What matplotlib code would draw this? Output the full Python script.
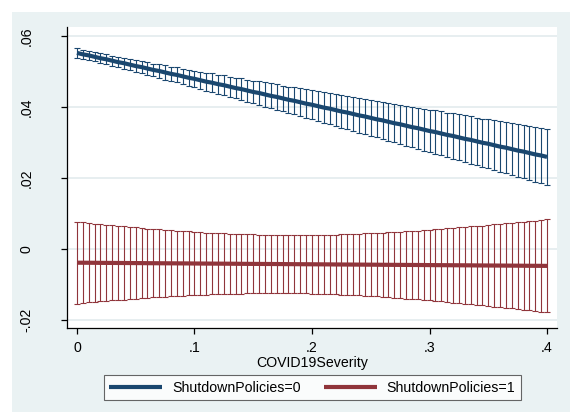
import numpy as np
import matplotlib
matplotlib.use("Agg")
import matplotlib.pyplot as plt
from matplotlib.patches import Rectangle

plt.rcParams['font.family'] = ['Liberation Sans', 'DejaVu Sans']

# at() grid of COVID19Severity
severity = [0.000, 0.005, 0.010, 0.015, 0.020, 0.025, 0.030, 0.035, 0.040, 0.045,
            0.050, 0.055, 0.060, 0.065, 0.070, 0.075, 0.080, 0.085, 0.090, 0.095,
            0.100, 0.105, 0.110, 0.115, 0.120, 0.125, 0.130, 0.135, 0.140, 0.145,
            0.150, 0.155, 0.160, 0.165, 0.170, 0.175, 0.180, 0.185, 0.190, 0.195,
            0.200, 0.205, 0.210, 0.215, 0.220, 0.225, 0.230, 0.235, 0.240, 0.245,
            0.250, 0.255, 0.260, 0.265, 0.270, 0.275, 0.280, 0.285, 0.290, 0.295,
            0.300, 0.305, 0.310, 0.315, 0.320, 0.325, 0.330, 0.335, 0.340, 0.345,
            0.350, 0.355, 0.360, 0.365, 0.370, 0.375, 0.380, 0.385, 0.390, 0.395,
            0.400]

# ShutdownPolicies=0 : margin and CI half width
margin0 = [.0552, .0548, .0545, .0541, .0537, .0534, .0530, .0526, .0523, .0519,
           .0515, .0512, .0508, .0504, .0501, .0497, .0493, .0490, .0486, .0482,
           .0479, .0475, .0471, .0468, .0464, .0461, .0457, .0453, .0450, .0446,
           .0442, .0439, .0435, .0431, .0428, .0424, .0420, .0417, .0413, .0409,
           .0406, .0402, .0398, .0395, .0391, .0387, .0384, .0380, .0376, .0373,
           .0369, .0365, .0362, .0358, .0354, .0351, .0347, .0343, .0340, .0336,
           .0332, .0329, .0325, .0321, .0318, .0314, .0310, .0307, .0303, .0299,
           .0296, .0292, .0288, .0285, .0281, .0277, .0274, .0270, .0266, .0263,
           .0259]
halfci0 = [.0013, .0013, .0013, .0013, .0014, .0014, .0014, .0015, .0015, .0016,
           .0016, .0017, .0017, .0018, .0019, .0020, .0020, .0021, .0022, .0023,
           .0023, .0024, .0025, .0026, .0027, .0028, .0028, .0029, .0030, .0031,
           .0032, .0033, .0034, .0035, .0036, .0036, .0037, .0038, .0039, .0040,
           .0041, .0042, .0043, .0044, .0045, .0046, .0047, .0048, .0049, .0049,
           .0050, .0051, .0052, .0053, .0054, .0055, .0056, .0057, .0058, .0059,
           .0060, .0061, .0062, .0063, .0064, .0065, .0066, .0067, .0067, .0068,
           .0069, .0070, .0071, .0072, .0073, .0074, .0075, .0076, .0077, .0078,
           .0079]

# ShutdownPolicies=1
margin1 = [-.00390, -.00391, -.00392, -.00393, -.00395, -.00396, -.00397, -.00398, -.00399, -.00400,
           -.00401, -.00402, -.00404, -.00405, -.00406, -.00407, -.00408, -.00409, -.00410, -.00411,
           -.00413, -.00414, -.00415, -.00416, -.00417, -.00418, -.00419, -.00420, -.00422, -.00423,
           -.00424, -.00425, -.00426, -.00427, -.00428, -.00429, -.00431, -.00432, -.00433, -.00434,
           -.00435, -.00436, -.00437, -.00438, -.00440, -.00441, -.00442, -.00443, -.00444, -.00445,
           -.00446, -.00447, -.00449, -.00450, -.00451, -.00452, -.00453, -.00454, -.00455, -.00456,
           -.00458, -.00459, -.00460, -.00461, -.00462, -.00463, -.00464, -.00465, -.00467, -.00468,
           -.00469, -.00470, -.00471, -.00472, -.00473, -.00474, -.00476, -.00477, -.00478, -.00479,
           -.00480]
halfci1 = [.01150, .01134, .01118, .01103, .01088, .01073, .01058, .01044, .01030, .01016,
           .01003, .00990, .00977, .00965, .00953, .00942, .00931, .00920, .00910, .00900,
           .00891, .00883, .00874, .00867, .00860, .00853, .00847, .00842, .00837, .00832,
           .00829, .00826, .00823, .00822, .00821, .00820, .00820, .00821, .00822, .00824,
           .00827, .00830, .00834, .00839, .00844, .00850, .00856, .00863, .00870, .00878,
           .00886, .00895, .00905, .00915, .00925, .00936, .00947, .00959, .00971, .00983,
           .00996, .01009, .01022, .01036, .01050, .01065, .01080, .01095, .01110, .01125,
           .01141, .01157, .01173, .01190, .01206, .01223, .01240, .01258, .01275, .01293,
           .01310]

labels = ["ShutdownPolicies=0", "ShutdownPolicies=1"]
xticks = [0, 0.1, 0.2, 0.3, 0.4]
xticklabels = ["0", ".1", ".2", ".3", ".4"]
yticks = [-0.02, 0, 0.02, 0.04, 0.06]
yticklabels = ["-.02", "0", ".02", ".04", ".06"]

navy = "#1A476F"
maroon = "#90353B"
bg = "#EAF2F3"

W, H = 570, 412
fig = plt.figure(figsize=(W / 100, H / 100), dpi=100)
fig.patch.set_facecolor("white")
# graph region (light bluish) with thin white border top/left
fig.patches.append(Rectangle((12 / W, 0), 1 - 12 / W, 1 - 12 / H, transform=fig.transFigure,
                             facecolor=bg, edgecolor="none", zorder=-10))

ax = fig.add_axes([67 / W, 1 - 328 / H, (557 - 67) / W, (328 - 27) / H])
ax.set_facecolor("white")

x = np.array(severity)
for m, h, c, lab in [(margin0, halfci0, navy, labels[0]), (margin1, halfci1, maroon, labels[1])]:
    m = np.array(m)
    h = np.array(h)
    ax.errorbar(x, m, yerr=h, fmt="none", ecolor=c, elinewidth=0.8,
                capsize=2.4, capthick=0.8, zorder=2)
    ax.plot(x, m, color=c, lw=3.0, label=lab, zorder=3, solid_capstyle="butt")

ax.set_xlim(-0.0085, 0.4085)
ax.set_ylim(-0.0223, 0.0625)
ax.set_xticks(xticks)
ax.set_xticklabels(xticklabels)
ax.set_yticks(yticks)
ax.set_yticklabels(yticklabels, rotation=90, va="center")
ax.grid(axis="y", color="#E3EBEE", lw=1.2, zorder=0)
ax.set_axisbelow(True)
for s in ["top", "right"]:
    ax.spines[s].set_visible(False)
for s in ["left", "bottom"]:
    ax.spines[s].set_color("black")
    ax.spines[s].set_linewidth(0.9)
ax.tick_params(axis="y", length=4, width=0.9, pad=20, labelsize=10.2)
ax.tick_params(axis="x", length=4, width=0.9, pad=5, labelsize=10.2)
ax.set_xlabel("COVID19Severity", fontsize=10.2, labelpad=1)

handles, labs = ax.get_legend_handles_labels()
leg = fig.legend(handles, labs, loc="center", bbox_to_anchor=(312.5 / W, 1 - 387.5 / H),
                 ncol=2, fontsize=10.2, frameon=True, fancybox=False, handlelength=3.7,
                 columnspacing=1.7, handletextpad=0.7, borderpad=0.4)
leg.get_frame().set_edgecolor("#404040")
leg.get_frame().set_linewidth(0.8)
leg.get_frame().set_facecolor("white")

fig.savefig("out.png", dpi=100)
